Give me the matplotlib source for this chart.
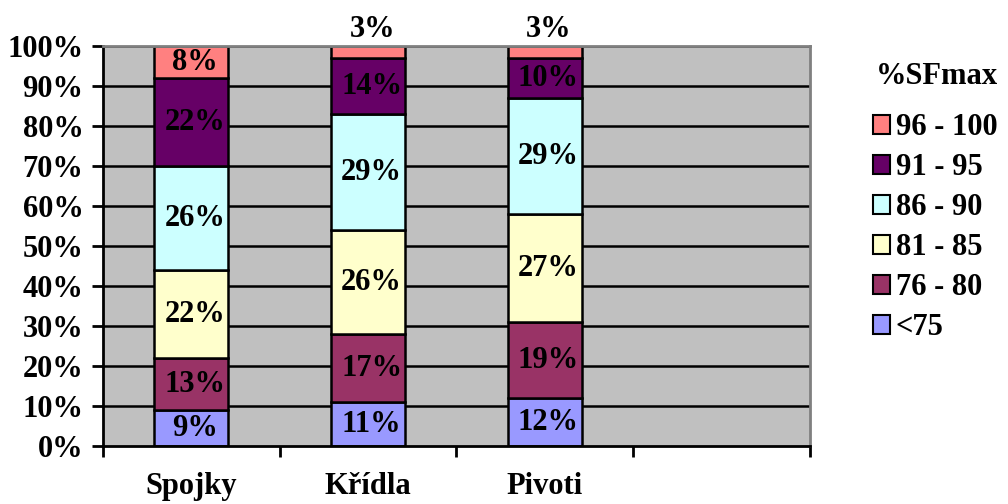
import matplotlib.pyplot as plt
from matplotlib.patches import Patch

plt.rcParams['font.family'] = ['Liberation Serif', 'DejaVu Serif']
plt.rcParams['font.weight'] = 'bold'

categories = ['Spojky', 'Křídla', 'Pivoti']
bands = ['<75', '76 - 80', '81 - 85', '86 - 90', '91 - 95', '96 - 100']
band_colors = ['#9999FF', '#993366', '#FFFFCC', '#CCFFFF', '#660066', '#FF8080']
shares = {
    '<75':      [9, 11, 12],
    '76 - 80':  [13, 17, 19],
    '81 - 85':  [22, 26, 27],
    '86 - 90':  [26, 29, 29],
    '91 - 95':  [22, 14, 10],
    '96 - 100': [8, 3, 3],
}
y_ticks = [0, 10, 20, 30, 40, 50, 60, 70, 80, 90, 100]
FS = 22

fig = plt.figure(figsize=(10.08, 5.04), dpi=100)
ax = fig.add_axes([103 / 1008, 58 / 504, 707 / 1008, 400 / 504])
ax.set_facecolor('#C0C0C0')

for y in y_ticks[1:]:
    ax.axhline(y, color='black', lw=1.8, zorder=1)

xs = list(range(len(categories)))
bottoms = [0] * len(categories)
for band, color in zip(bands, band_colors):
    vals = shares[band]
    ax.bar(xs, vals, width=0.42, bottom=bottoms, color=color,
           edgecolor='black', linewidth=1.8, zorder=2)
    for x, v, b in zip(xs, vals, bottoms):
        if v < 5:
            ax.annotate(f'{v}%', (x, 100), xytext=(3, 12), textcoords='offset points',
                        ha='center', va='center', fontsize=FS, fontweight='bold',
                        annotation_clip=False)
        else:
            ax.text(x + 0.02, b + v / 2, f'{v}%', ha='center', va='center',
                    fontsize=FS, fontweight='bold', zorder=3)
    bottoms = [b + v for b, v in zip(bottoms, vals)]

ax.set_xlim(-0.5, 3.5)
ax.set_ylim(0, 100)
ax.set_yticks(y_ticks)
ax.set_yticklabels([f'{t}%' for t in y_ticks], fontsize=FS, fontweight='bold')
ax.set_xticks([-0.5, 0.5, 1.5, 2.5, 3.5])
ax.set_xticklabels([])
ax.set_xticks(xs, minor=True)
ax.set_xticklabels(categories, minor=True, fontsize=FS, fontweight='bold')
ax.tick_params(axis='x', which='minor', length=0, pad=19)
ax.tick_params(axis='x', which='major', length=8, width=2, direction='out')
ax.tick_params(axis='y', length=8, width=2, direction='out', pad=6)

for side in ('left', 'bottom'):
    ax.spines[side].set_color('black')
    ax.spines[side].set_linewidth(2)
for side in ('top', 'right'):
    ax.spines[side].set_color('#808080')
    ax.spines[side].set_linewidth(2)

handles = [Patch(facecolor=c, edgecolor='black', linewidth=1.5, label=b)
           for b, c in zip(bands, band_colors)][::-1]
leg = fig.legend(handles=handles, loc='upper left', bbox_to_anchor=(873 / 1008, 1 - 62 / 504),
                 frameon=False, title='%SFmax', handlelength=0.55, handleheight=0.55,
                 handletextpad=0.2, labelspacing=0.36, borderpad=0, borderaxespad=0,
                 prop={'size': FS, 'weight': 'bold'},
                 title_fontproperties={'size': FS, 'weight': 'bold'})
leg._legend_box.align = 'right'
leg._legend_box.sep = 16

fig.savefig('out.png', dpi=100)
